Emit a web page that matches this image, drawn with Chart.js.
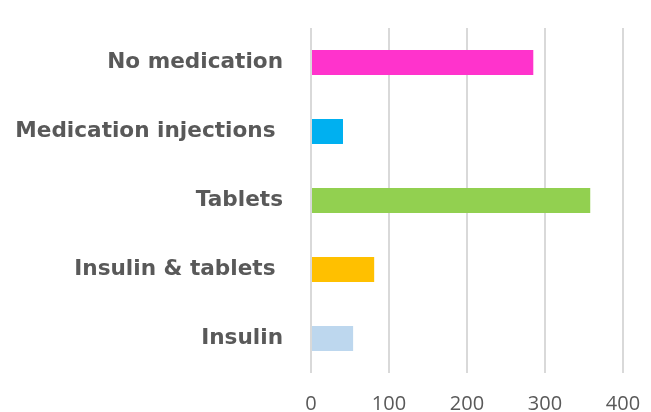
<!DOCTYPE html>
<html>
<head>
<meta charset="utf-8">
<script src="https://cdn.jsdelivr.net/npm/chart.js@4/dist/chart.umd.min.js"></script>
<style>
html,body{margin:0;padding:0;background:#fff;}
#wrap{width:651px;height:412px;position:relative;}
</style>
</head>
<body>
<div id="wrap"><canvas id="c" width="651" height="412"></canvas></div>
<script>
const categories = ["No medication", "Medication injections ", "Tablets", "Insulin & tablets ", "Insulin"];
const values = [285, 41, 358, 81, 54];
const barColors = ["#FF33CC", "#00B0F0", "#92D050", "#FFC000", "#BDD7EE"];
const xTicks = [0, 100, 200, 300, 400];

new Chart(document.getElementById('c'), {
  type: 'bar',
  data: {
    labels: categories,
    datasets: [{
      data: values,
      backgroundColor: barColors,
      borderWidth: 0,
      barPercentage: 0.362,
      categoryPercentage: 1
    }]
  },
  options: {
    indexAxis: 'y',
    responsive: false,
    animation: false,
    layout: { padding: { top: 28, right: 28, left: 0, bottom: 0 } },
    plugins: { legend: { display: false }, tooltip: { enabled: false } },
    scales: {
      x: {
        min: 0, max: 400,
        afterBuildTicks: (s) => { s.ticks = xTicks.map(v => ({ value: v })); },
        grid: { color: '#d9d9d9', lineWidth: 2, drawTicks: false },
        border: { display: false },
        ticks: { color: '#595959', font: { family: 'Open Sans', size: 20 }, padding: 19 },
        afterFit: (s) => { s.height = 39; s.paddingLeft = 0; s.paddingRight = 0; }
      },
      y: {
        grid: { display: false, drawTicks: false },
        border: { display: false },
        ticks: { color: '#595959', font: { family: 'DejaVu Sans', size: 21.6, weight: 'bold' }, padding: 28 },
        afterFit: (s) => { s.width = 311; s.paddingTop = 0; s.paddingBottom = 0; }
      }
    }
  }
});
</script>
</body>
</html>
